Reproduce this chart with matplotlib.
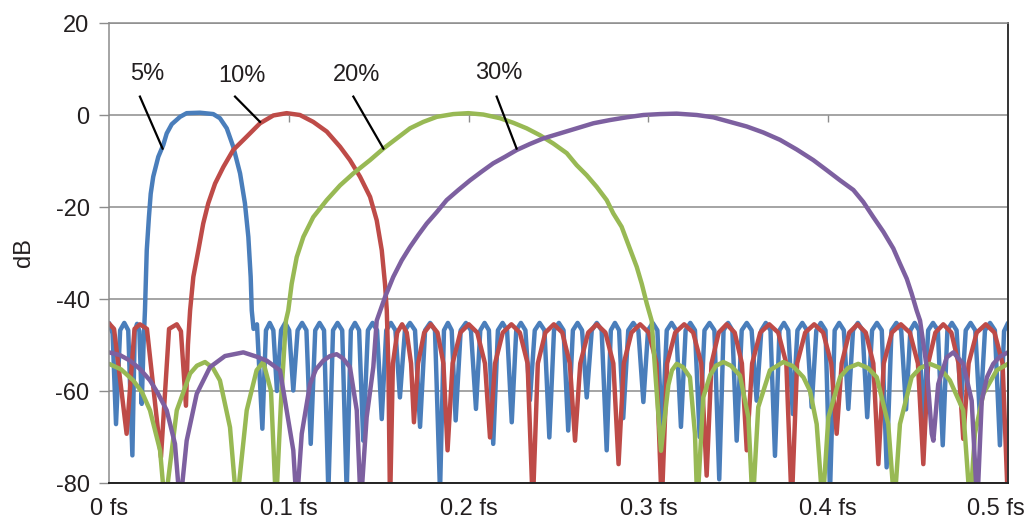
import matplotlib
matplotlib.use("Agg")
import matplotlib.pyplot as plt
import matplotlib.transforms as mtransforms

BLUE   = "#4A7EBB"
RED    = "#BE4B48"
GREEN  = "#98B954"
PURPLE = "#7D60A0"
GRID   = "#8C8C8C"
TEXT   = "#231F20"

# frequency (fs) / level (dB)
CURVE_5 = [
    (0.0000, -45.2), (0.0020, -47.5), (0.0039, -67.2), (0.0062, -46.8), (0.0085, -45.2),
    (0.0107, -46.8), (0.0130, -74.0), (0.0143, -47.0), (0.0156, -45.4), (0.0169, -47.0),
    (0.0182, -62.8), (0.0192, -50.0),
    (0.0200, -42.5), (0.0210, -29.4), (0.0222, -22.2), (0.0232, -17.1), (0.0246, -13.4),
    (0.0274, -9.1), (0.0302, -6.5), (0.0321, -4.0), (0.0349, -2.0), (0.0395, -0.4),
    (0.0432, 0.4), (0.0506, 0.5), (0.0580, 0.2), (0.0617, -0.7), (0.0655, -2.9),
    (0.0691, -6.9), (0.0729, -12.7), (0.0756, -19.2), (0.0775, -26.5), (0.0788, -35.2),
    (0.0794, -42.5), (0.0804, -46.5), (0.0823, -45.5),
    (0.0853, -68.2), (0.0873, -46.8), (0.0894, -45.2), (0.0914, -46.8),
    (0.0934, -60.0), (0.0957, -46.8), (0.0980, -45.2), (0.1002, -46.8),
    (0.1025, -59.9), (0.1049, -46.8), (0.1074, -45.2), (0.1098, -46.8),
    (0.1122, -71.5), (0.1147, -46.8), (0.1171, -45.2), (0.1196, -46.8),
    (0.1220, -82.0), (0.1246, -46.8), (0.1271, -45.2), (0.1297, -46.8),
    (0.1322, -82.0), (0.1345, -46.8), (0.1368, -45.2), (0.1391, -46.8),
    (0.1414, -70.8), (0.1440, -46.8), (0.1466, -45.2), (0.1491, -46.8),
    (0.1517, -66.1), (0.1542, -46.8), (0.1568, -45.2), (0.1593, -46.8),
    (0.1618, -61.4), (0.1646, -46.8), (0.1674, -45.2), (0.1702, -46.8),
    (0.1730, -67.8), (0.1758, -46.8), (0.1786, -45.2), (0.1813, -46.8),
    (0.1841, -82.0), (0.1863, -46.8), (0.1885, -45.2), (0.1906, -46.8),
    (0.1928, -66.4), (0.1956, -46.8), (0.1985, -45.2), (0.2013, -46.8),
    (0.2041, -63.9), (0.2065, -46.8), (0.2089, -45.2), (0.2113, -46.8),
    (0.2137, -71.5), (0.2163, -46.8), (0.2189, -45.2), (0.2214, -46.8),
    (0.2240, -66.8), (0.2265, -46.8), (0.2291, -45.2), (0.2316, -46.8),
    (0.2341, -62.0), (0.2368, -46.8), (0.2395, -45.2), (0.2422, -46.8),
    (0.2449, -70.1), (0.2475, -46.8), (0.2502, -45.2), (0.2528, -46.8),
    (0.2554, -68.6), (0.2580, -46.8), (0.2606, -45.2), (0.2631, -46.8),
    (0.2657, -61.4), (0.2685, -46.8), (0.2713, -45.2), (0.2740, -46.8),
    (0.2768, -72.9), (0.2791, -46.8), (0.2814, -45.2), (0.2837, -46.8),
    (0.2860, -65.9), (0.2888, -46.8), (0.2916, -45.2), (0.2944, -46.8),
    (0.2972, -62.4), (0.2998, -46.8), (0.3024, -45.2), (0.3050, -46.8),
    (0.3076, -70.0), (0.3102, -46.8), (0.3129, -45.2), (0.3155, -46.8),
    (0.3181, -67.8), (0.3207, -46.8), (0.3233, -45.2), (0.3259, -46.8),
    (0.3285, -70.0), (0.3312, -46.8), (0.3340, -45.2), (0.3367, -46.8),
    (0.3394, -79.2), (0.3418, -46.8), (0.3443, -45.2), (0.3467, -46.8),
    (0.3491, -70.8), (0.3519, -46.8), (0.3547, -45.2), (0.3574, -46.8),
    (0.3602, -62.1), (0.3628, -46.8), (0.3653, -45.2), (0.3679, -46.8),
    (0.3704, -74.1), (0.3729, -46.8), (0.3754, -45.2), (0.3778, -46.8),
    (0.3803, -65.0), (0.3829, -46.8), (0.3856, -45.2), (0.3882, -46.8),
    (0.3908, -63.5), (0.3934, -46.8), (0.3959, -45.2), (0.3985, -46.8),
    (0.4010, -82.0), (0.4036, -46.8), (0.4061, -45.2), (0.4087, -46.8),
    (0.4112, -63.9), (0.4138, -46.8), (0.4165, -45.2), (0.4191, -46.8),
    (0.4217, -65.7), (0.4244, -46.8), (0.4271, -45.2), (0.4298, -46.8),
    (0.4325, -76.6), (0.4352, -46.8), (0.4379, -45.2), (0.4406, -46.8),
    (0.4433, -64.0), (0.4457, -46.8), (0.4481, -45.2), (0.4505, -46.8),
    (0.4529, -68.0), (0.4556, -46.8), (0.4583, -45.2), (0.4610, -46.8),
    (0.4637, -71.8), (0.4663, -46.8), (0.4688, -45.2), (0.4714, -46.8),
    (0.4739, -63.0), (0.4765, -46.8), (0.4792, -45.2), (0.4818, -46.8),
    (0.4844, -66.0), (0.4872, -46.8), (0.4900, -45.2), (0.4927, -46.8),
    (0.4955, -71.8), (0.4978, -47.0), (0.5000, -45.2),
]

CURVE_10 = [
    (0.0000, -45.3), (0.0028, -46.5), (0.0098, -69.3), (0.0142, -46.5), (0.0172, -45.5),
    (0.0211, -46.5), (0.0289, -74.4), (0.0334, -46.5), (0.0377, -45.5), (0.0400, -47.0),
    (0.0428, -63.2), (0.0439, -50.0),
    (0.0451, -42.5), (0.0469, -35.2), (0.0497, -29.4), (0.0524, -23.6), (0.0552, -19.2),
    (0.0590, -14.9), (0.0636, -11.3), (0.0691, -7.6), (0.0766, -4.7), (0.0840, -1.8),
    (0.0914, -0.1), (0.0988, 0.4), (0.1062, 0.0), (0.1136, -1.5), (0.1211, -3.6),
    (0.1285, -6.9), (0.1340, -9.8), (0.1396, -13.4), (0.1452, -17.8), (0.1489, -22.9),
    (0.1517, -29.4), (0.1535, -36.7), (0.1545, -42.5), (0.1554, -55.0),
    (0.1563, -85.0), (0.1579, -54.0), (0.1603, -47.3), (0.1630, -45.5), (0.1656, -47.3), (0.1680, -54.0),
    (0.1696, -66.8), (0.1719, -54.0), (0.1753, -47.3), (0.1790, -45.5), (0.1827, -47.3), (0.1860, -54.0),
    (0.1883, -72.9), (0.1911, -54.0), (0.1954, -47.3), (0.2001, -45.5), (0.2048, -47.3), (0.2091, -54.0),
    (0.2119, -70.1), (0.2147, -54.0), (0.2190, -47.3), (0.2238, -45.5), (0.2285, -47.3), (0.2328, -54.0),
    (0.2357, -85.0), (0.2385, -54.0), (0.2427, -47.3), (0.2474, -45.5), (0.2521, -47.3), (0.2563, -54.0),
    (0.2592, -70.8), (0.2621, -54.0), (0.2665, -47.3), (0.2713, -45.5), (0.2761, -47.3), (0.2805, -54.0),
    (0.2834, -75.9), (0.2863, -54.0), (0.2906, -47.3), (0.2954, -45.5), (0.3002, -47.3), (0.3045, -54.0),
    (0.3074, -85.0), (0.3104, -54.0), (0.3149, -47.3), (0.3199, -45.5), (0.3249, -47.3), (0.3294, -54.0),
    (0.3324, -78.4), (0.3351, -54.0), (0.3391, -47.3), (0.3435, -45.5), (0.3480, -47.3), (0.3520, -54.0),
    (0.3547, -72.9), (0.3577, -54.0), (0.3622, -47.3), (0.3672, -45.5), (0.3722, -47.3), (0.3767, -54.0),
    (0.3797, -85.0), (0.3827, -54.0), (0.3872, -47.3), (0.3922, -45.5), (0.3972, -47.3), (0.4017, -54.0),
    (0.4047, -69.3), (0.4075, -54.0), (0.4117, -47.3), (0.4163, -45.5), (0.4209, -47.3), (0.4251, -54.0),
    (0.4279, -75.9), (0.4309, -54.0), (0.4354, -47.3), (0.4404, -45.5), (0.4454, -47.3), (0.4499, -54.0),
    (0.4529, -75.9), (0.4556, -54.0), (0.4596, -47.3), (0.4640, -45.5), (0.4685, -47.3), (0.4725, -54.0),
    (0.4751, -70.4), (0.4781, -54.0), (0.4826, -47.3), (0.4876, -45.5), (0.4925, -47.3), (0.4970, -54.0),
    (0.5000, -85.0),
]

CURVE_20 = [
    (0.0000, -54.1), (0.0067, -55.3), (0.0135, -57.7), (0.0184, -60.3), (0.0228, -64.2),
    (0.0284, -72.9), (0.0311, -85.0), (0.0377, -64.2), (0.0451, -56.2), (0.0489, -54.5),
    (0.0534, -53.7), (0.0578, -55.0), (0.0617, -57.7), (0.0673, -67.9), (0.0710, -85.0),
    (0.0766, -64.2), (0.0821, -55.5), (0.0858, -53.7), (0.0901, -60.0), (0.0929, -85.0),
    (0.0957, -62.0), (0.0984, -44.7),
    (0.0997, -42.5), (0.1016, -36.7), (0.1044, -30.9), (0.1081, -26.5), (0.1136, -22.2),
    (0.1211, -18.5), (0.1285, -15.3), (0.1359, -12.7), (0.1452, -9.8), (0.1526, -7.3),
    (0.1600, -5.1), (0.1674, -2.9), (0.1748, -1.5), (0.1823, -0.4), (0.1915, 0.2),
    (0.1998, 0.4), (0.2082, 0.1), (0.2175, -0.7), (0.2249, -1.7), (0.2323, -2.9),
    (0.2397, -4.4), (0.2471, -6.2), (0.2546, -8.3), (0.2601, -10.9), (0.2657, -13.1),
    (0.2712, -15.6), (0.2768, -18.5), (0.2805, -21.4), (0.2851, -24.3), (0.2879, -27.2),
    (0.2907, -30.1), (0.2935, -33.0), (0.2963, -36.7), (0.2991, -41.0), (0.3018, -44.7),
    (0.3042, -58.0), (0.3070, -73.0), (0.3111, -58.7), (0.3131, -55.5), (0.3157, -54.1),
    (0.3192, -54.8), (0.3231, -57.0), (0.3259, -69.3), (0.3272, -85.0), (0.3305, -61.4),
    (0.3343, -56.6), (0.3376, -54.5), (0.3417, -53.7), (0.3459, -54.5), (0.3509, -56.6),
    (0.3556, -65.7), (0.3580, -85.0), (0.3611, -63.5), (0.3676, -55.5), (0.3750, -53.7),
    (0.3804, -54.6), (0.3862, -57.0), (0.3899, -60.0), (0.3936, -67.2), (0.3969, -85.0),
    (0.4001, -65.7), (0.4066, -57.0), (0.4110, -55.0), (0.4167, -54.1), (0.4221, -55.0),
    (0.4270, -57.0), (0.4334, -67.2), (0.4368, -85.0), (0.4399, -67.2), (0.4464, -57.0),
    (0.4511, -55.0), (0.4566, -54.1), (0.4622, -55.0), (0.4677, -57.7), (0.4751, -64.2),
    (0.4789, -85.0), (0.4816, -69.3), (0.4863, -60.6), (0.4937, -55.5), (0.5000, -54.1),
]

CURVE_30 = [
    (0.0000, -51.6), (0.0061, -52.2), (0.0117, -53.4), (0.0172, -55.2), (0.0228, -57.7),
    (0.0272, -60.5), (0.0321, -64.2), (0.0367, -71.5), (0.0395, -85.0), (0.0432, -70.8),
    (0.0488, -60.6), (0.0562, -54.8), (0.0645, -52.4), (0.0747, -51.6), (0.0818, -52.5),
    (0.0877, -53.4), (0.0951, -55.5), (0.0988, -64.2), (0.1025, -72.9), (0.1044, -85.0),
    (0.1072, -69.3), (0.1118, -58.5), (0.1151, -55.3), (0.1192, -53.4), (0.1229, -52.4),
    (0.1266, -52.0), (0.1301, -52.9), (0.1340, -54.8), (0.1378, -64.2), (0.1400, -85.0),
    (0.1433, -65.7), (0.1470, -54.8),
    (0.1489, -44.7), (0.1535, -39.6), (0.1581, -35.2), (0.1628, -31.6), (0.1674, -28.7),
    (0.1720, -26.1), (0.1767, -23.6), (0.1823, -21.1), (0.1878, -18.5), (0.1943, -16.3),
    (0.2008, -14.2), (0.2073, -12.3), (0.2137, -10.5), (0.2202, -9.1), (0.2268, -7.6),
    (0.2341, -6.3), (0.2415, -5.1), (0.2508, -4.0), (0.2601, -2.9), (0.2694, -1.8),
    (0.2786, -1.1), (0.2879, -0.5), (0.2972, 0.0), (0.3065, 0.2), (0.3157, 0.3),
    (0.3269, 0.0), (0.3361, -0.5), (0.3454, -1.5), (0.3547, -2.5), (0.3639, -3.8),
    (0.3732, -5.4), (0.3825, -7.5), (0.3917, -9.8), (0.3992, -12.0), (0.4066, -14.2),
    (0.4140, -16.3), (0.4195, -18.9), (0.4251, -22.2), (0.4307, -25.4), (0.4362, -29.0),
    (0.4399, -32.3), (0.4437, -35.6), (0.4464, -38.8), (0.4492, -42.5), (0.4511, -44.7),
    (0.4548, -54.8), (0.4576, -69.3), (0.4585, -70.8), (0.4612, -58.5), (0.4659, -52.7),
    (0.4696, -51.6), (0.4751, -54.1), (0.4798, -62.1), (0.4829, -85.0), (0.4854, -62.1),
    (0.4883, -57.0), (0.4918, -54.1), (0.4955, -52.5), (0.5000, -51.6),
]

SERIES = [CURVE_5, CURVE_10, CURVE_20, CURVE_30]
COLORS = [BLUE, RED, GREEN, PURPLE]
LABELS = ["5%", "10%", "20%", "30%"]

X_TICKS = [0.0, 0.1, 0.2, 0.3, 0.4, 0.5]
X_TICK_LABELS = ["0 fs", "0.1 fs", "0.2 fs", "0.3 fs", "0.4 fs", "0.5 fs"]
Y_TICKS = [-80, -60, -40, -20, 0, 20]

plt.rcParams["font.family"] = ["Liberation Sans", "DejaVu Sans"]
plt.rcParams["axes.unicode_minus"] = False

fig = plt.figure(figsize=(10.27, 5.25), dpi=100)
ax = fig.add_axes([109 / 1027, 1 - 483 / 525, 899 / 1027, 460 / 525])

for pts, col in zip(SERIES, COLORS):
    xs, ys = zip(*pts)
    ax.plot(xs, ys, color=col, lw=3.2, solid_joinstyle="round", solid_capstyle="round")

ax.set_xlim(0, 0.5)
ax.set_ylim(-80, 20)
ax.set_yticks(Y_TICKS)
ax.set_yticklabels([str(v) for v in Y_TICKS])
ax.set_xticks(X_TICKS)
ax.set_xticklabels(X_TICK_LABELS)
ax.yaxis.grid(True, color=GRID, lw=1.1)
ax.set_axisbelow(True)

ax.tick_params(axis="y", direction="out", length=7, width=1.0, color=GRID,
               labelsize=17, labelcolor=TEXT, pad=7)
ax.tick_params(axis="x", length=0, labelsize=17, labelcolor=TEXT, pad=11)

# Excel pulls the last category label inside the figure
last = ax.get_xticklabels()[-1]
last.set_transform(last.get_transform() + mtransforms.ScaledTranslation(-0.12, 0, fig.dpi_scale_trans))

ax.spines["left"].set_color(GRID)
ax.spines["top"].set_color(GRID)
ax.spines["left"].set_linewidth(1.1)
ax.spines["top"].set_linewidth(1.1)
ax.spines["bottom"].set_color("#222222")
ax.spines["right"].set_color("#333333")
ax.spines["bottom"].set_linewidth(1.4)
ax.spines["right"].set_linewidth(1.4)

# small category ticks on the 0 dB line
ax.vlines(X_TICKS[1:-1], -1.5, 0, color=GRID, lw=1.0)

ax.set_ylabel("dB", fontsize=17, color=TEXT)
ax.yaxis.set_label_coords(-0.082, 0.5)

# callout labels
label_pos = [(0.021, 8.9), (0.0738, 8.5), (0.1377, 8.7), (0.2165, 9.2)]
leader = [((0.0172, 4.0), (0.0298, -7.3)),
          ((0.0701, 4.0), (0.0840, -1.5)),
          ((0.1359, 4.0), (0.1526, -7.3)),
          ((0.2156, 4.0), (0.2267, -7.3))]
for lab, (tx, ty), (p0, p1) in zip(LABELS, label_pos, leader):
    ax.text(tx, ty, lab, ha="center", va="center", fontsize=17, color=TEXT)
    ax.plot([p0[0], p1[0]], [p0[1], p1[1]], color="black", lw=1.6)

fig.savefig("out.png", dpi=100)
